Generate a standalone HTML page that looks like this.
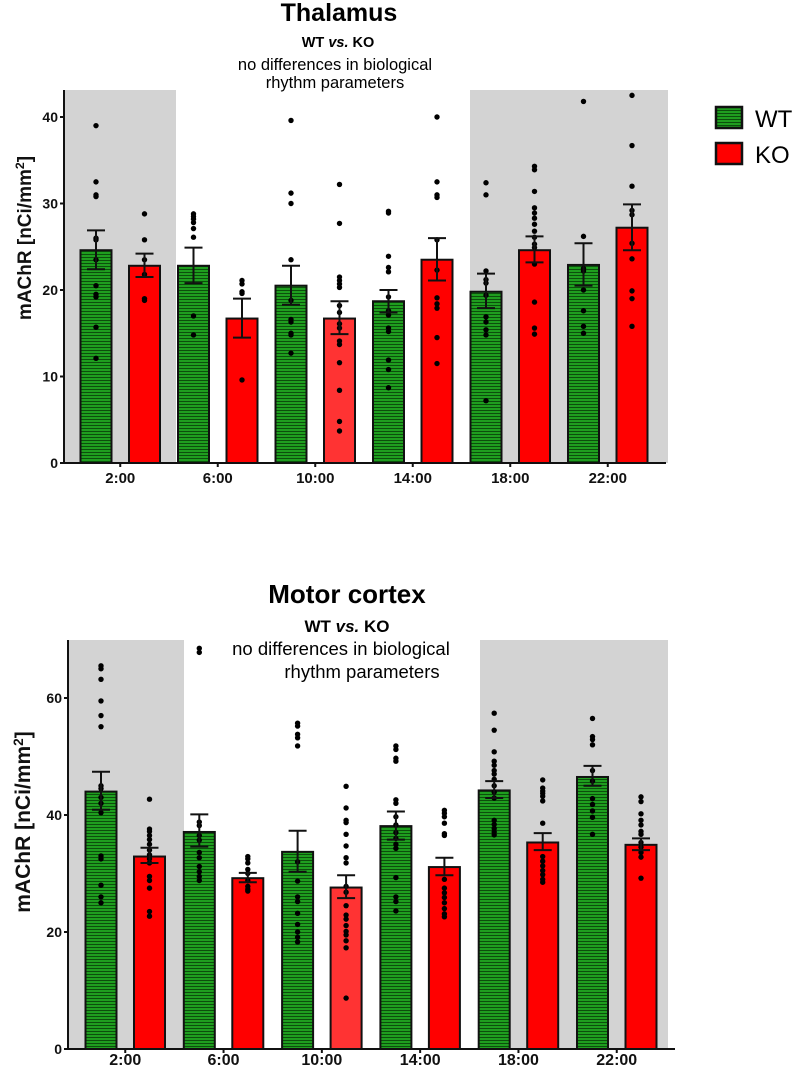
<!DOCTYPE html>
<html><head><meta charset="utf-8"><style>
body{margin:0;background:#fff;}
svg{display:block;font-family:"Liberation Sans",Arial,sans-serif;}
</style></head><body>
<svg id="fig" width="796" height="1067" viewBox="0 0 796 1067">
<defs>
<pattern id="hatch" width="4" height="3" patternUnits="userSpaceOnUse">
<rect width="4" height="3" fill="#1f9e1f"/><rect y="2" width="4" height="1" fill="#0c4f0c"/>
</pattern>
</defs>
<g>
<text x="339" y="21" text-anchor="middle" font-size="25" font-weight="bold">Thalamus</text>
<text x="338" y="47" text-anchor="middle" font-size="14.5" font-weight="bold">WT <tspan font-style="italic">vs.</tspan> KO</text>
<text x="335" y="70" text-anchor="middle" font-size="16.5">no differences in biological</text>
<text x="335" y="88" text-anchor="middle" font-size="16.5">rhythm parameters</text>
</g>
<g>
<text x="347" y="603" text-anchor="middle" font-size="26" font-weight="bold">Motor cortex</text>
<text x="347" y="632" text-anchor="middle" font-size="17" font-weight="bold">WT <tspan font-style="italic">vs.</tspan> KO</text>
<text x="341" y="655" text-anchor="middle" font-size="18.5">no differences in biological</text>
<text x="362" y="678" text-anchor="middle" font-size="18.5">rhythm parameters</text>
</g>
<g>
<rect x="716" y="107" width="26" height="21" fill="url(#hatch)" stroke="#111" stroke-width="2.5"/>
<text x="755" y="127" font-size="24">WT</text>
<rect x="716" y="143" width="26" height="21" fill="#ff0000" stroke="#111" stroke-width="2.5"/>
<text x="755" y="163" font-size="24">KO</text>
</g>
</svg>
<script>
const categories = ["2:00","6:00","10:00","14:00","18:00","22:00"];
const thalWtMean = [24.6,22.8,20.5,18.7,19.8,22.9];
const thalKoMean = [22.8,16.7,16.7,23.5,24.6,27.2];
const thalWtHi = [26.9,24.9,22.8,20.0,21.9,25.4];
const thalWtLo = [22.4,20.8,18.3,17.4,17.9,20.5];
const thalKoHi = [24.2,19.0,18.7,26.0,26.2,29.9];
const thalKoLo = [21.5,14.5,14.9,21.1,23.2,24.6];
const thalWtPts = [
 [39,32.5,31,30.8,26,25.8,23.5,20.5,19.5,19.2,15.7,12.1],
 [28.8,28.5,28.2,27.8,27.1,26.1,17,14.8],
 [39.6,31.2,30,23.5,18.8,16.6,16.3,15,14.8,12.7],
 [29.1,28.9,23.9,22.6,22.1,19.2,17.6,17.1,15.6,15.2,11.9,10.8,8.7],
 [32.4,31.0,22.2,21.2,20.8,19.4,16.9,16.3,15.4,14.8,7.2],
 [41.8,26.2,22.5,22.2,20.0,17.6,15.8,15.0]];
const thalKoPts = [
 [28.8,25.8,23.5,21.8,19,18.8],
 [21.1,20.7,19.8,19.6,9.6],
 [32.2,27.7,21.5,21.1,20.7,20.3,18.2,17.4,16.1,15.6,14.1,13.7,11.6,8.4,4.8,3.7],
 [40,32.5,31,30.7,25.8,22.3,19.1,18.4,17.9,14.5,11.5],
 [34.3,33.9,31.4,29.5,28.9,28.3,27.6,26.8,26.1,25.3,24.9,23.0,18.6,15.6,14.9],
 [42.5,36.7,32.0,29.2,28.7,25.4,23.6,19.9,19.0,15.8]];
const thalTicks = [0,10,20,30,40];

const motWtMean = [44.0,37.1,33.7,38.1,44.2,46.5];
const motKoMean = [32.9,29.2,27.6,31.1,35.3,34.9];
const motWtHi = [47.4,40.1,37.3,40.6,45.8,48.4];
const motWtLo = [40.9,34.6,30.3,35.8,42.9,45.0];
const motKoHi = [34.4,30.1,29.7,32.7,36.9,36.0];
const motKoLo = [31.8,28.5,25.8,29.7,34.0,34.0];
const motWtPts = [
 [65.5,65,63.2,59.5,57,55.1,45,44.5,43,42,40.4,33,32.5,28,26,25],
 [68.5,67.8,38.8,38.2,36.5,35.7,33.6,32.7,31.2,30.3,29.5,28.8],
 [55.7,55.2,53.8,53.2,51.8,32,28.7,26,25.2,23.2,21.3,20,19.1,18.3],
 [51.8,51.2,49.7,49.2,42.6,42,39.7,38.3,37,36,35,34.3,29.3,26,25.2,23.6],
 [57.4,54.5,50.8,49.2,48.5,47.6,47,46.1,45,43.9,42.9,39.1,38.4,37.7,37.1,36.6],
 [56.5,53.4,52.9,52,47.6,45.8,42.8,41.8,40.7,39.6,36.7]];
const motKoPts = [
 [42.7,37.6,37.2,36.5,35.8,35,34,33.2,32.5,31.8,29.5,28.8,27.5,23.5,22.7],
 [32.9,32.5,31.8,30.7,30,28.8,27.8,27.3,27],
 [44.9,41.2,39.1,38.7,36.7,34.7,32.7,31.8,27.8,26.8,24.5,22.9,22.2,21.1,20.1,19.5,18.5,17.3,8.7],
 [40.8,40.3,39.7,38.6,36.8,36.5,29,27.5,26.7,25.9,25,24,23.1,22.6],
 [46,44.6,44.1,43.7,43.2,42.4,38.6,32.9,32.1,31.3,30.5,29.8,29,28.5],
 [43.1,42.3,40.2,39.1,38.3,37.2,36.7,35.3,34.5,33.6,32.8,29.2]];
const motTicks = [0,20,40,60];

const NS="http://www.w3.org/2000/svg";
const svg=document.getElementById('fig');
function mk(tag,attrs,parent){const e=document.createElementNS(NS,tag);for(const k in attrs)e.setAttribute(k,attrs[k]);(parent||svg).appendChild(e);return e;}

function drawChart(cfg){
  const g=mk('g',{});
  
  
  const y=v=>cfg.y0-(v-0)*cfg.pxPer;
  const xW=i=>cfg.x0+cfg.step*i;
  const xK=i=>xW(i)+cfg.gap;
  cfg.bands.forEach((b,j)=>{
    const r=mk('rect',{x:b[0],y:cfg.top,width:b[1]-b[0],height:cfg.y0-cfg.top,fill:'#d3d3d3'},g);
    
    
  });
  const hw=15.5;
  function series(means,hi,lo,pts,xf,fill,kind){
    means.forEach((m,i)=>{
      const f=(kind==='ko'&&i===2)?'#ff3333':fill;
      const b=mk('rect',{x:xf(i)-hw,y:y(m),width:hw*2,height:cfg.y0-y(m),fill:f,stroke:'#111','stroke-width':2},g);
      
      
    });
    pts.forEach((arr,i)=>{arr.forEach(v=>{
      const c=mk('circle',{cx:xf(i),cy:y(v),r:2.7,fill:'#000'},g);
      
      
    });});
    means.forEach((m,i)=>{
      const eg=mk('g',{stroke:'#111','stroke-width':2},g);
      
      
      mk('line',{x1:xf(i),x2:xf(i),y1:y(hi[i]),y2:y(lo[i])},eg);
      mk('line',{x1:xf(i)-9,x2:xf(i)+9,y1:y(hi[i]),y2:y(hi[i])},eg);
      mk('line',{x1:xf(i)-9,x2:xf(i)+9,y1:y(lo[i]),y2:y(lo[i])},eg);
    });
  }
  series(cfg.wtMean,cfg.wtHi,cfg.wtLo,cfg.wtPts,xW,'url(#hatch)','wt');
  series(cfg.koMean,cfg.koHi,cfg.koLo,cfg.koPts,xK,'#ff0000','ko');
  const ax=mk('g',{stroke:'#111','stroke-width':2},g);
  
  
  mk('line',{x1:cfg.ax,x2:cfg.ax,y1:cfg.top,y2:cfg.y0+1},ax);
  mk('line',{x1:cfg.ax,x2:cfg.axEnd,y1:cfg.y0,y2:cfg.y0},ax);
  cfg.ticks.forEach(t=>{
    mk('line',{x1:cfg.ax-4,x2:cfg.ax,y1:y(t),y2:y(t)},ax);
    const tx=mk('text',{x:cfg.ax-6,y:y(t)+5,'text-anchor':'end','font-size':cfg.tickFs,'font-weight':'bold',fill:'#111'},g);
    tx.textContent=t;
    
    
  });
  categories.forEach((c,i)=>{
    const cx=(xW(i)+xK(i))/2;
    mk('line',{x1:cx,x2:cx,y1:cfg.y0,y2:cfg.y0+4},ax);
    const tx=mk('text',{x:cx,y:cfg.y0+cfg.catDy,'text-anchor':'middle','font-size':cfg.catFs,'font-weight':'bold',fill:'#111'},g);
    tx.textContent=c;
    
    
  });
  const yt=mk('text',{transform:'translate('+cfg.ytx+','+cfg.yty+') rotate(-90)','text-anchor':'middle','font-size':cfg.ytFs,'font-weight':'bold',fill:'#111'},g);
  
  
  yt.textContent='mAChR [nCi/mm';
  const sup=mk('tspan',{dy:-7,'font-size':cfg.ytFs*0.65},yt);sup.textContent='2';
  const cl=mk('tspan',{dy:7},yt);cl.textContent=']';
}

drawChart({name:'thalamus',y0:463,pxPer:8.65,top:90,x0:96,step:97.5,gap:48.5,ax:64,axEnd:666,
  bands:[[65,176],[470,668]],ticks:thalTicks,tickFs:14,catFs:15,catDy:20,ytx:31,yty:238,ytFs:19,
  wtMean:thalWtMean,koMean:thalKoMean,wtHi:thalWtHi,wtLo:thalWtLo,koHi:thalKoHi,koLo:thalKoLo,wtPts:thalWtPts,koPts:thalKoPts});
drawChart({name:'motor',y0:1049,pxPer:5.85,top:640,x0:101,step:98.3,gap:48.5,ax:68,axEnd:675,
  bands:[[69,184],[480,668]],ticks:motTicks,tickFs:14,catFs:16,catDy:16,ytx:30,yty:822,ytFs:21,
  wtMean:motWtMean,koMean:motKoMean,wtHi:motWtHi,wtLo:motWtLo,koHi:motKoHi,koLo:motKoLo,wtPts:motWtPts,koPts:motKoPts});
</script>
</body></html>
